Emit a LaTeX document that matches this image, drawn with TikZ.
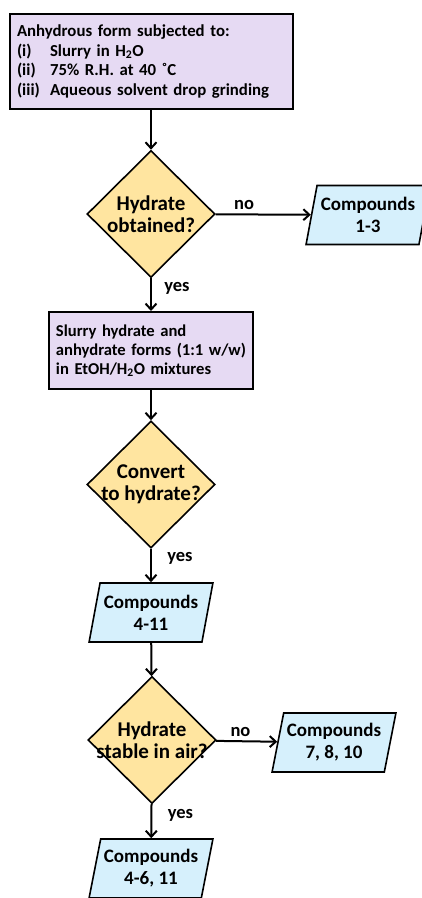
\documentclass[tikz,border=0pt]{standalone}
\usepackage{fontspec}
\setmainfont{Carlito}
\usepackage{tikz}
\usetikzlibrary{arrows.meta,shapes.geometric}
\definecolor{lavender}{RGB}{230,218,243}
\definecolor{amber}{RGB}{255,229,160}
\definecolor{skyblue}{RGB}{214,240,252}

\newcommand{\fsz}[2]{\fontsize{#1}{#2}\selectfont\bfseries}

\begin{document}
\begin{tikzpicture}[x=1pt, y=-1pt, >={Straight Barb[length=6pt,width=11pt]},
  stepbox/.style={rectangle, draw=black, line width=2pt, fill=lavender,
    align=left, inner xsep=7pt, inner ysep=0pt},
  decision/.style={diamond, draw=black, line width=1.6pt, fill=amber,
    minimum width=128pt, minimum height=127pt, inner sep=-6pt, align=center,
    font=\fsz{21}{22.5}},
  result/.style={trapezium, trapezium left angle=74, trapezium right angle=106,
    trapezium stretches=true, draw=black, line width=1.6pt, fill=skyblue,
    minimum width=124pt, minimum height=59pt, inner sep=0pt, align=center,
    font=\fsz{19}{22}},
  flow/.style={draw=black, line width=2pt, ->},
  answer/.style={font=\fsz{18.5}{20}}]

  \useasboundingbox (0,0) rectangle (421,898);

  % ========== STEP 1 : ANHYDROUS FORM ==========
  \node[stepbox, minimum width=283pt, minimum height=95pt, text width=268pt,
        font=\fsz{16.8}{19.8}] (start) at (151,61.5) {%
    Anhydrous form subjected to:\\
    \makebox[33pt][l]{(i)}Slurry in H\textsubscript{2}O\\
    \makebox[33pt][l]{(ii)}75\% R.H. at 40 ˚C\\
    \makebox[33pt][l]{(iii)}Aqueous solvent drop grinding};

  % Decision 1
  \node[decision] (hyd) at (151,214) {Hydrate\\obtained?};
  \node[result] (c13) at (368,215) {Compounds\\1-3};

  % ========== STEP 2 : COMPETITIVE SLURRY ==========
  \node[stepbox, minimum width=204pt, minimum height=77pt, text width=190pt,
        font=\fsz{16.6}{19}] (slurry) at (151,350.5) {%
    Slurry hydrate and\\
    anhydrate forms (1:1 w/w)\\
    in EtOH/H\textsubscript{2}O mixtures};

  % Decision 2
  \node[decision] (conv) at (151,484.5) {Convert\\to hydrate?};
  \node[result] (c411) at (151,612.5) {Compounds\\4-11};

  % ========== STEP 3 : AIR STABILITY ==========
  \node[decision] (stab) at (152,740) {Hydrate\\stable in air?};
  \node[result] (c7810) at (334,742.5) {Compounds\\7, 8, 10};
  \node[result] (c4611) at (151,868.5) {Compounds\\4-6, 11};

  % Connectors
  \draw[flow] (start) -- (hyd);
  \draw[flow] (hyd) -- node[answer, above, pos=0.3] {no} (c13);
  \draw[flow] (hyd) -- node[answer, right, pos=0.3, xshift=9pt] {yes} (slurry);
  \draw[flow] (slurry) -- (conv);
  \draw[flow] (conv) -- node[answer, right, pos=0.3, xshift=12pt] {yes} (c411);
  \draw[flow] (c411) -- (stab);
  \draw[flow] (stab) -- node[answer, above, pos=0.4] {no} (c7810);
  \draw[flow] (stab) -- node[answer, right, pos=0.35, xshift=12pt] {yes} (c4611);

\end{tikzpicture}
\end{document}
